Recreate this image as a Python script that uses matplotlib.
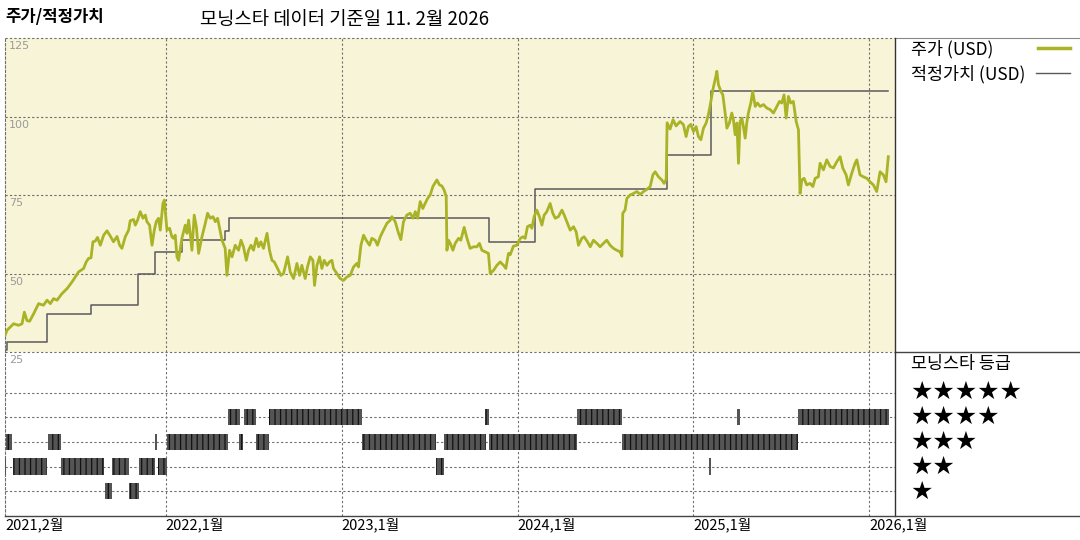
import matplotlib
matplotlib.use('Agg')
import matplotlib.pyplot as plt
from matplotlib.lines import Line2D

plt.rcParams['font.family'] = ['Noto Sans CJK KR', 'DejaVu Sans']
plt.rcParams['hatch.linewidth'] = 0.9
plt.rcParams['hatch.color'] = '#111111'

# ---------------- data (time in decimal years) ----------------
price_t = [
    2021.087, 2021.096, 2021.134, 2021.162, 2021.182, 2021.195, 2021.210, 2021.225, 2021.248, 2021.276,
    2021.304, 2021.324, 2021.343, 2021.361, 2021.381, 2021.409, 2021.438, 2021.466, 2021.485, 2021.503,
    2021.532, 2021.547, 2021.560, 2021.574, 2021.585, 2021.598, 2021.611, 2021.627, 2021.646, 2021.665,
    2021.684, 2021.702, 2021.722, 2021.737, 2021.750, 2021.769, 2021.788, 2021.797, 2021.816, 2021.826,
    2021.839, 2021.854, 2021.870, 2021.883, 2021.892, 2021.907, 2021.921, 2021.934, 2021.945, 2021.958,
    2021.968, 2021.983, 2021.991, 2022.006, 2022.021, 2022.034, 2022.044, 2022.053, 2022.063, 2022.072,
    2022.091, 2022.110, 2022.120, 2022.129, 2022.138, 2022.148, 2022.161, 2022.173, 2022.186, 2022.205,
    2022.224, 2022.237, 2022.252, 2022.268, 2022.281, 2022.294, 2022.309, 2022.319, 2022.337, 2022.347,
    2022.362, 2022.376, 2022.394, 2022.413, 2022.427, 2022.441, 2022.457, 2022.470, 2022.484, 2022.498,
    2022.514, 2022.527, 2022.540, 2022.555, 2022.575, 2022.589, 2022.603, 2022.616, 2022.635, 2022.654,
    2022.669, 2022.692, 2022.707, 2022.726, 2022.745, 2022.760, 2022.773, 2022.792, 2022.805, 2022.821,
    2022.836, 2022.845, 2022.859, 2022.874, 2022.887, 2022.900, 2022.916, 2022.930, 2022.944, 2022.953,
    2022.972, 2022.991, 2023.010, 2023.029, 2023.048, 2023.067, 2023.086, 2023.095, 2023.109, 2023.124,
    2023.139, 2023.158, 2023.171, 2023.190, 2023.203, 2023.219, 2023.237, 2023.257, 2023.276, 2023.285,
    2023.304, 2023.323, 2023.336, 2023.351, 2023.370, 2023.389, 2023.405, 2023.418, 2023.431, 2023.446,
    2023.461, 2023.474, 2023.488, 2023.503, 2023.518, 2023.541, 2023.556, 2023.569, 2023.582, 2023.594,
    2023.598, 2023.607, 2023.617, 2023.632, 2023.645, 2023.664, 2023.677, 2023.696, 2023.712, 2023.730,
    2023.749, 2023.768, 2023.783, 2023.797, 2023.816, 2023.834, 2023.844, 2023.863, 2023.882, 2023.901,
    2023.920, 2023.933, 2023.948, 2023.958, 2023.976, 2023.996, 2024.015, 2024.030, 2024.043, 2024.056,
    2024.071, 2024.081, 2024.094, 2024.109, 2024.124, 2024.138, 2024.151, 2024.166, 2024.185, 2024.200,
    2024.214, 2024.232, 2024.252, 2024.265, 2024.280, 2024.299, 2024.318, 2024.333, 2024.346, 2024.365,
    2024.378, 2024.397, 2024.413, 2024.431, 2024.451, 2024.469, 2024.488, 2024.507, 2024.526, 2024.545,
    2024.564, 2024.583, 2024.593, 2024.598, 2024.611, 2024.621, 2024.640, 2024.659, 2024.678, 2024.697,
    2024.716, 2024.735, 2024.754, 2024.769, 2024.782, 2024.801, 2024.820, 2024.833, 2024.845, 2024.850,
    2024.867, 2024.884, 2024.901, 2024.924, 2024.943, 2024.958, 2024.971, 2024.985, 2025.000, 2025.015,
    2025.028, 2025.042, 2025.057, 2025.072, 2025.085, 2025.099, 2025.110, 2025.123, 2025.133, 2025.142,
    2025.156, 2025.167, 2025.180, 2025.190, 2025.204, 2025.218, 2025.227, 2025.237, 2025.247, 2025.256,
    2025.265, 2025.275, 2025.284, 2025.294, 2025.303, 2025.312, 2025.326, 2025.337, 2025.351, 2025.364,
    2025.379, 2025.398, 2025.417, 2025.436, 2025.455, 2025.474, 2025.489, 2025.502, 2025.515, 2025.527,
    2025.540, 2025.553, 2025.568, 2025.584, 2025.597, 2025.606, 2025.616, 2025.629, 2025.644, 2025.663,
    2025.679, 2025.692, 2025.710, 2025.720, 2025.739, 2025.758, 2025.777, 2025.796, 2025.815, 2025.834,
    2025.849, 2025.868, 2025.881, 2025.900, 2025.919, 2025.929, 2025.947, 2025.966, 2025.986, 2026.004,
    2026.023, 2026.042, 2026.061, 2026.080, 2026.095, 2026.108,
]
price_v = [
    30.5, 31.9, 34.0, 33.5, 34.0, 37.7, 35.0, 34.8, 37.2, 40.4,
    39.9, 41.5, 40.4, 42.0, 41.5, 43.6, 45.2, 47.3, 48.9, 50.5,
    51.6, 53.7, 54.8, 55.0, 60.1, 60.3, 61.5, 59.0, 62.2, 63.6,
    61.9, 60.1, 61.8, 59.0, 58.0, 61.7, 63.8, 66.8, 67.2, 65.4,
    67.0, 69.7, 67.6, 68.6, 66.5, 65.4, 59.0, 63.8, 66.5, 67.6,
    63.8, 72.3, 73.4, 63.8, 64.4, 61.7, 61.2, 62.2, 55.3, 54.2,
    61.2, 65.4, 62.8, 67.0, 62.8, 57.4, 68.6, 64.9, 56.4, 61.7,
    66.0, 69.2, 67.6, 68.1, 66.5, 67.6, 63.3, 60.6, 58.0, 49.4,
    57.4, 55.3, 59.0, 57.4, 60.6, 58.5, 54.2, 57.4, 59.0, 57.4,
    61.2, 58.5, 60.1, 58.0, 62.8, 57.4, 54.2, 53.7, 51.6, 49.4,
    50.0, 55.3, 50.5, 48.4, 53.2, 49.4, 52.6, 48.4, 52.1, 55.3,
    54.2, 46.2, 52.6, 55.3, 51.6, 54.2, 52.6, 53.7, 54.2, 51.6,
    50.0, 48.4, 47.8, 48.9, 49.4, 52.1, 53.2, 52.1, 59.0, 62.2,
    60.6, 59.0, 61.2, 60.6, 59.0, 61.7, 63.8, 66.0, 67.0, 68.1,
    66.5, 62.8, 60.8, 66.5, 68.6, 69.2, 67.6, 69.7, 67.6, 72.9,
    70.7, 72.3, 73.9, 75.0, 77.7, 79.8, 78.2, 77.9, 76.6, 74.5,
    57.4, 60.6, 59.6, 57.4, 59.6, 61.2, 60.6, 64.7, 61.2, 58.0,
    58.5, 58.5, 59.6, 57.4, 56.9, 56.4, 50.0, 51.0, 52.6, 53.7,
    52.6, 51.6, 56.4, 56.0, 58.7, 59.0, 61.2, 61.7, 61.2, 64.9,
    65.4, 64.4, 68.1, 70.2, 68.1, 65.4, 68.6, 69.7, 72.3, 69.2,
    67.6, 68.1, 70.2, 68.6, 66.5, 63.8, 64.9, 63.3, 59.0, 61.2,
    61.7, 60.1, 58.5, 60.6, 59.6, 58.5, 59.6, 60.6, 59.0, 58.0,
    57.4, 56.9, 55.5, 69.2, 70.2, 73.9, 75.0, 75.5, 76.1, 75.2,
    76.1, 76.8, 77.7, 81.4, 82.4, 80.8, 79.8, 78.7, 80.0, 98.0,
    96.0, 99.0, 97.0, 98.4, 97.4, 93.6, 96.8, 97.5, 95.2, 96.8,
    93.6, 92.6, 96.3, 97.9, 100.6, 104.8, 108.5, 111.7, 114.4, 110.1,
    108.0, 106.9, 101.1, 96.3, 97.9, 101.1, 99.0, 94.2, 97.9, 85.1,
    98.4, 99.5, 96.8, 93.1, 97.9, 101.1, 104.3, 108.0, 103.2, 104.3,
    103.2, 103.8, 102.7, 102.2, 101.1, 103.2, 104.8, 104.3, 106.9, 99.5,
    106.4, 104.3, 104.8, 98.4, 95.8, 75.5, 79.8, 80.3, 78.2, 78.7,
    77.7, 80.3, 80.8, 85.1, 83.0, 86.2, 84.1, 83.6, 85.6, 87.2,
    83.6, 81.4, 78.2, 81.9, 85.1, 86.2, 81.4, 80.8, 80.3, 79.2,
    78.2, 76.1, 82.4, 81.4, 79.2, 87.2,
]

fair_t = [2021.087, 2021.098, 2021.324, 2021.574, 2021.841, 2021.939, 2022.091,
          2022.337, 2022.356, 2023.838, 2024.100, 2024.848, 2025.099, 2026.108]
fair_v = [25.7, 28.1, 37.0, 40.1, 50.0, 56.9, 60.8,
          63.5, 67.8, 60.1, 76.8, 87.8, 108.0, 108.0]

rating_4 = [(2022.351, 2022.419), (2022.445, 2022.514), (2022.589, 2023.115),
            (2023.816, 2023.838), (2024.337, 2024.596), (2025.250, 2025.265),
            (2025.593, 2026.114)]
rating_3 = [(2021.092, 2021.125), (2021.327, 2021.403), (2021.939, 2021.951),
            (2022.006, 2022.351), (2022.413, 2022.441), (2022.512, 2022.588),
            (2023.115, 2023.537), (2023.582, 2023.821), (2023.840, 2024.337),
            (2024.596, 2025.597)]
rating_2 = [(2021.085, 2021.092), (2021.128, 2021.324), (2021.403, 2021.650),
            (2021.693, 2021.792), (2021.845, 2021.939), (2021.953, 2022.006),
            (2023.537, 2023.582), (2025.091, 2025.102)]
rating_1 = [(2021.651, 2021.693), (2021.792, 2021.845)]
rating_5 = []
ratings = {5: rating_5, 4: rating_4, 3: rating_3, 2: rating_2, 1: rating_1}

price_ticks = [125, 100, 75, 50, 25]
x_ticks = [2021.085, 2022.0, 2023.0, 2024.0, 2025.0, 2026.0]
x_labels = ['2021,2월', '2022,1월', '2023,1월', '2024,1월', '2025,1월', '2026,1월']
x_range = (2021.085, 2026.146)

title_left = '주가/적정가치'
title_date = '모닝스타 데이터 기준일 11. 2월 2026'
legend_price = '주가 (USD)'
legend_fair = '적정가치 (USD)'
legend_rating = '모닝스타 등급'

# ---------------- style ----------------
W, H = 1080, 540
PRICE_C = '#a9b325'
FAIR_C = '#5a5a5a'
BG = '#f8f4d8'
GRID_C = '#6e6e6e'
DOT = (0, (2, 2))

def fx(px):
    return px / W

def fy(py):
    return 1 - py / H

fig = plt.figure(figsize=(W / 100, H / 100), dpi=100)

# top panel
ax1 = fig.add_axes([fx(5), fy(352), fx(890), 314 / H])
ax1.set_zorder(3)
ax1.set_facecolor(BG)
ax1.set_xlim(*x_range)
ax1.set_ylim(25, 125)
for v in price_ticks:
    ax1.axhline(v, color=GRID_C, lw=0.8, ls=DOT, zorder=1, clip_on=False)
for t in x_ticks[1:]:
    ax1.axvline(t, color=GRID_C, lw=0.8, ls=DOT, zorder=1)
ax1.plot(fair_t, fair_v, drawstyle='steps-post', color=FAIR_C, lw=1.1, zorder=2)
ax1.plot(price_t, price_v, color=PRICE_C, lw=2.0, zorder=3, solid_joinstyle='round')
ax1.set_xticks([])
ax1.set_yticks([])
for s in ['top', 'bottom']:
    ax1.spines[s].set_visible(False)
ax1.spines['left'].set_linestyle(DOT)
ax1.spines['left'].set_color(GRID_C)
ax1.spines['left'].set_linewidth(0.8)
ax1.spines['right'].set_color('#333333')
ax1.spines['right'].set_linewidth(1.0)
for v in price_ticks:
    ax1.annotate(str(v), xy=(0, v), xycoords=('axes fraction', 'data'),
                 xytext=(3, -2.5), textcoords='offset points', ha='left', va='top',
                 fontsize=8, color='#9a9a9a', annotation_clip=False,
                 family=['DejaVu Sans'])

# rating panel
ax2 = fig.add_axes([fx(5), fy(516), fx(890), 164 / H])
ax2.set_zorder(1)
ax2.set_facecolor('white')
ax2.set_xlim(*x_range)
ax2.set_ylim(0, 6.64)
for lvl in range(1, 6):
    ax2.axhline(lvl, color=GRID_C, lw=0.8, ls=DOT, zorder=1)
for t in x_ticks[1:]:
    ax2.axvline(t, color=GRID_C, lw=0.8, ls=DOT, zorder=1)
for lvl, segs in ratings.items():
    if segs:
        ax2.broken_barh([(a, b - a) for a, b in segs], (lvl - 0.33, 0.66),
                        facecolor='#555555', edgecolor='#111111', hatch='|||',
                        linewidth=0, zorder=3)
ax2.set_yticks([])
ax2.set_xticks(x_ticks)
ax2.set_xticklabels(x_labels, ha='left', fontsize=10.5)
ax2.tick_params(axis='x', length=0, pad=1)
ax2.spines['top'].set_visible(False)
ax2.spines['bottom'].set_visible(False)
ax2.spines['left'].set_linestyle(DOT)
ax2.spines['left'].set_color(GRID_C)
ax2.spines['left'].set_linewidth(0.8)
ax2.spines['right'].set_color('#333333')
ax2.spines['right'].set_linewidth(1.0)

# frame lines of the legend area and bottom axis
fig.add_artist(Line2D([fx(5), 1], [fy(516), fy(516)], color='#444444', lw=1.0))
fig.add_artist(Line2D([fx(896), 1], [fy(352), fy(352)], color='#444444', lw=1.0))
fig.add_artist(Line2D([fx(896), 1], [fy(38), fy(38)], color='#888888', lw=0.8))

# titles
fig.text(fx(5), fy(17), title_left, fontsize=12, fontweight='bold', va='center', ha='left')
fig.text(fx(200), fy(20), title_date, fontsize=13.5, va='center', ha='left')

# legend
fig.text(fx(911), fy(49), legend_price, fontsize=12.5, va='center', ha='left')
fig.add_artist(Line2D([fx(1038), fx(1070)], [fy(48), fy(48)], color=PRICE_C, lw=2.5))
fig.text(fx(911), fy(74), legend_fair, fontsize=12.5, va='center', ha='left')
fig.add_artist(Line2D([fx(1036), fx(1070)], [fy(73), fy(73)], color=FAIR_C, lw=1.0))

fig.text(fx(911), fy(364), legend_rating, fontsize=12.5, va='center', ha='left')
star_rows = [(5, 392), (4, 417), (3, 442), (2, 467), (1, 492)]
for n, py in star_rows:
    fig.text(fx(910), fy(py), '★' * n, fontsize=18, va='center', ha='left',
             family=['DejaVu Sans'])

fig.savefig('out.png', dpi=100)
